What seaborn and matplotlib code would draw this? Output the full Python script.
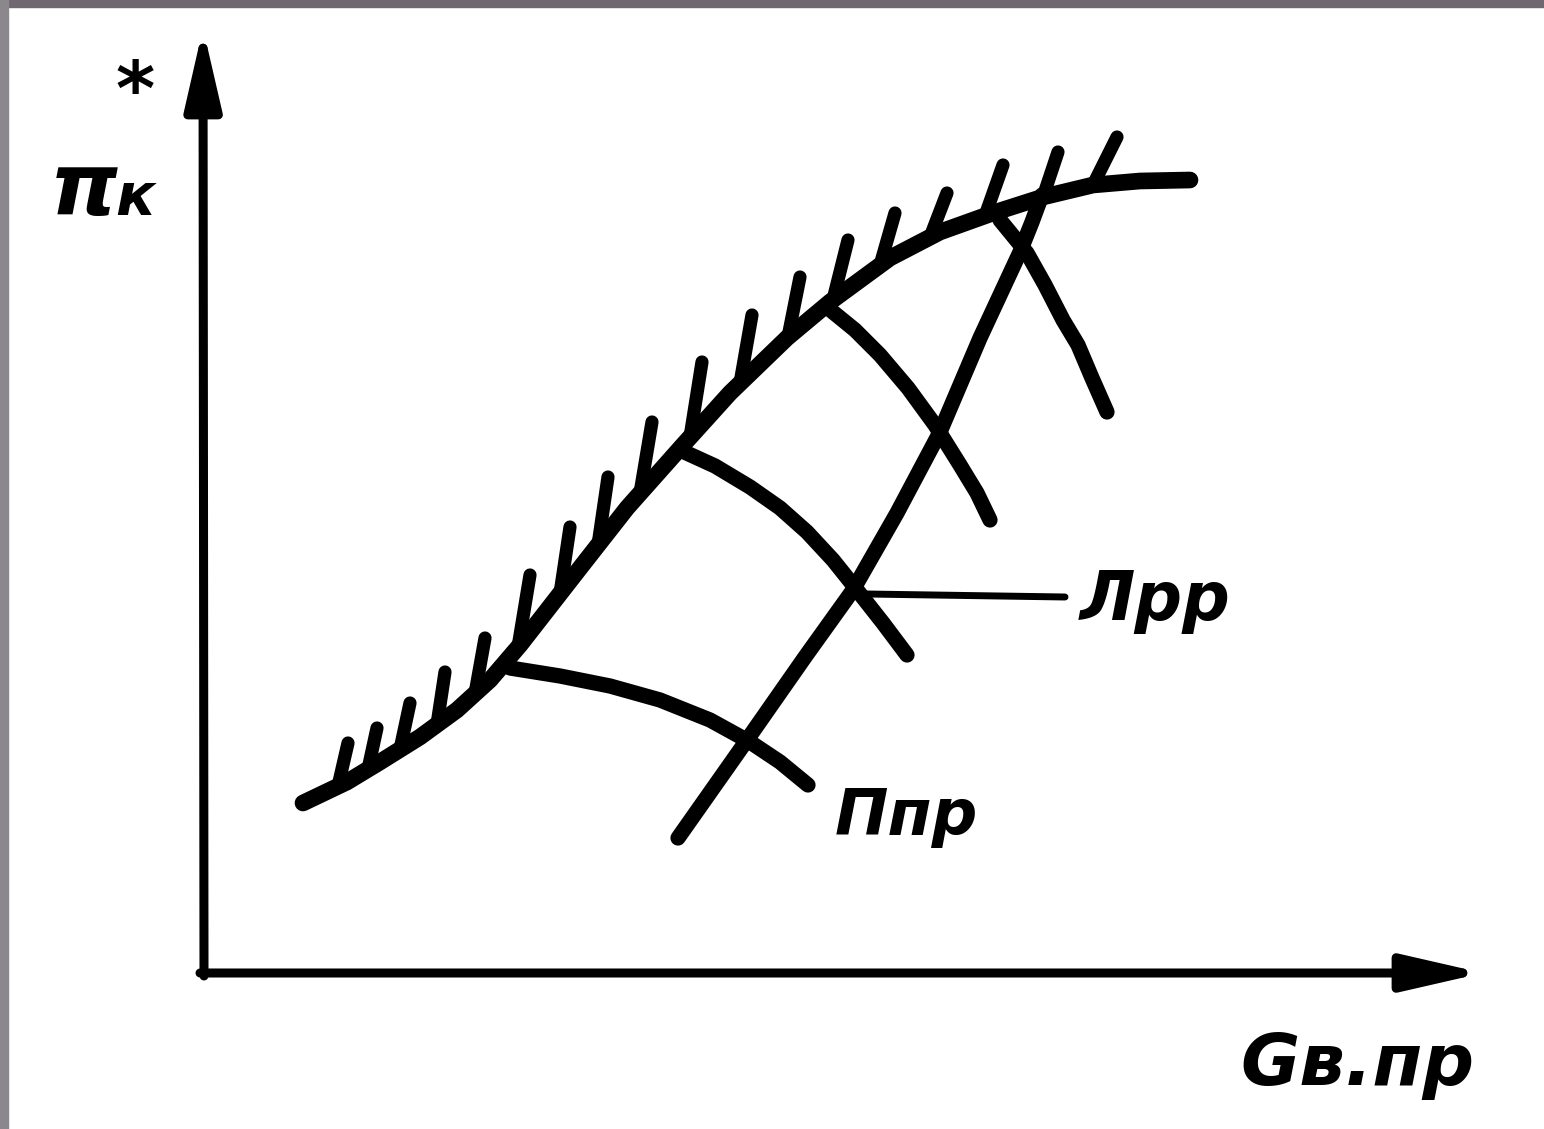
import numpy as np
import pandas as pd
import matplotlib
matplotlib.use("Agg")
import matplotlib.pyplot as plt
import seaborn as sns
from matplotlib.patches import Rectangle

# surge line (граница помпажа), G_в.пр vs pi*_к in arbitrary sketch units
surge_g = [0.98, 1.42, 1.75, 2.15, 2.52, 2.85, 3.15, 3.75, 4.22, 4.78, 5.25,
           5.82, 6.25, 6.85, 7.35, 7.88, 8.38, 8.88, 9.35, 9.85]
surge_pi = [1.67, 1.88, 2.08, 2.33, 2.60, 2.90, 3.25, 4.02, 4.62, 5.25, 5.77,
            6.32, 6.68, 7.12, 7.38, 7.57, 7.73, 7.85, 7.89, 7.90]

# hatch marks on the surge line
hatch_base_g = [1.33, 1.63, 1.95, 2.32, 2.70, 3.13, 3.55, 3.93, 4.35, 4.85,
                5.35, 5.83, 6.28, 6.75, 7.25, 7.80, 8.38, 8.88]
hatch_tip_g = [1.43, 1.72, 2.05, 2.40, 2.80, 3.25, 3.65, 4.03, 4.47, 4.97,
               5.47, 5.95, 6.43, 6.90, 7.42, 7.98, 8.53, 9.12]
hatch_tip_pi = [2.27, 2.42, 2.67, 2.98, 3.32, 3.95, 4.43, 4.93, 5.48, 6.08,
                6.55, 6.93, 7.30, 7.57, 7.77, 8.05, 8.18, 8.33]

# lines of constant n_пр
n1_g = [3.05, 3.55, 4.05, 4.55, 5.05, 5.45, 5.75, 6.03]
n1_pi = [3.02, 2.94, 2.84, 2.70, 2.50, 2.28, 2.08, 1.85]
n2_g = [4.75, 5.10, 5.45, 5.75, 6.02, 6.28, 6.52, 6.78, 7.02]
n2_pi = [5.20, 5.04, 4.83, 4.62, 4.38, 4.10, 3.80, 3.47, 3.15]
n3_g = [6.23, 6.50, 6.75, 7.03, 7.30, 7.55, 7.72, 7.85]
n3_pi = [6.62, 6.40, 6.15, 5.82, 5.45, 5.05, 4.77, 4.50]
n4_g = [7.95, 8.22, 8.40, 8.58, 8.73, 8.87, 9.02]
n4_pi = [7.50, 7.17, 6.85, 6.50, 6.25, 5.92, 5.58]

# line of operating regimes (ЛРР)
lrr_g = [4.73, 5.42, 6.00, 6.48, 6.92, 7.35, 7.55, 7.75, 7.95, 8.15, 8.27, 8.37]
lrr_pi = [1.32, 2.30, 3.13, 3.80, 4.57, 5.38, 5.85, 6.32, 6.75, 7.18, 7.48, 7.75]

# leader line to the label
leader_g = [6.62, 8.60]
leader_pi = [3.76, 3.73]

sns.set_style("white")
plt.rcParams['font.family'] = ['DejaVu Sans']

fig = plt.figure(figsize=(15.44, 11.29), dpi=100)
ax = fig.add_axes([0, 0, 1, 1])
ax.set_xlim(-2.05, 13.39)
ax.set_ylim(-1.59, 9.70)
ax.axis("off")

ink = "black"
line_kw = dict(color=ink, sort=False, estimator=None, legend=False)


def draw(width, **kw):
    # seaborn draws the curve, then the stroke is styled like the ink sketch
    n0 = len(ax.lines)
    sns.lineplot(ax=ax, **line_kw, **kw)
    for ln in ax.lines[n0:]:
        ln.set_linewidth(width)
        ln.set_solid_capstyle("round")
        ln.set_solid_joinstyle("round")


draw(12, x=surge_g, y=surge_pi)

base_pi = np.interp(hatch_base_g, surge_g, surge_pi)
hatches = pd.DataFrame({
    "g": np.concatenate([hatch_base_g, hatch_tip_g]),
    "pi": np.concatenate([base_pi, hatch_tip_pi]),
    "seg": np.tile(np.arange(len(hatch_base_g)), 2),
})
draw(9.5, data=hatches, x="g", y="pi", units="seg")

speed = pd.concat([
    pd.DataFrame({"g": n1_g, "pi": n1_pi, "n": 1}),
    pd.DataFrame({"g": n2_g, "pi": n2_pi, "n": 2}),
    pd.DataFrame({"g": n3_g, "pi": n3_pi, "n": 3}),
    pd.DataFrame({"g": n4_g, "pi": n4_pi, "n": 4}),
])
draw(11, data=speed, x="g", y="pi", units="n")

draw(11, x=lrr_g, y=lrr_pi)
draw(5, x=leader_g, y=leader_pi)

# axes with arrows
arrow = dict(arrowstyle="-|>,head_length=2.4,head_width=0.55", color=ink,
             lw=6.5, mutation_scale=20, shrinkA=0, shrinkB=0)
ax.annotate("", xy=(-0.02, 9.42), xytext=(-0.01, -0.06), arrowprops=arrow)
ax.annotate("", xy=(12.78, -0.03), xytext=(-0.05, -0.03), arrowprops=arrow)

# labels
lab = dict(color=ink, fontweight="bold", fontstyle="italic")
ax.text(-1.55, 7.55, "π", fontsize=62, ha="left", va="baseline", **lab)
ax.text(-0.90, 7.55, "к", fontsize=42, ha="left", va="baseline", **lab)
ax.text(-0.70, 8.55, "*", fontsize=54, ha="center", va="baseline", **lab)
ax.text(8.75, 3.50, "Лрр", fontsize=48, ha="left", va="baseline", **lab)
ax.text(6.30, 1.35, "Ппр", fontsize=46, ha="left", va="baseline", **lab)
ax.text(10.35, -1.15, "Gв.пр", fontsize=52, ha="left", va="baseline", **lab)

# grey scan border on top and left
fig.patches.append(Rectangle((0, 1 - 7 / 1129), 1, 7 / 1129, transform=fig.transFigure,
                             color="#6f6870", zorder=5))
fig.patches.append(Rectangle((0, 0), 8 / 1544, 1, transform=fig.transFigure,
                             color="#8a878d", zorder=5))

fig.savefig("out.png", dpi=100, facecolor="white")
